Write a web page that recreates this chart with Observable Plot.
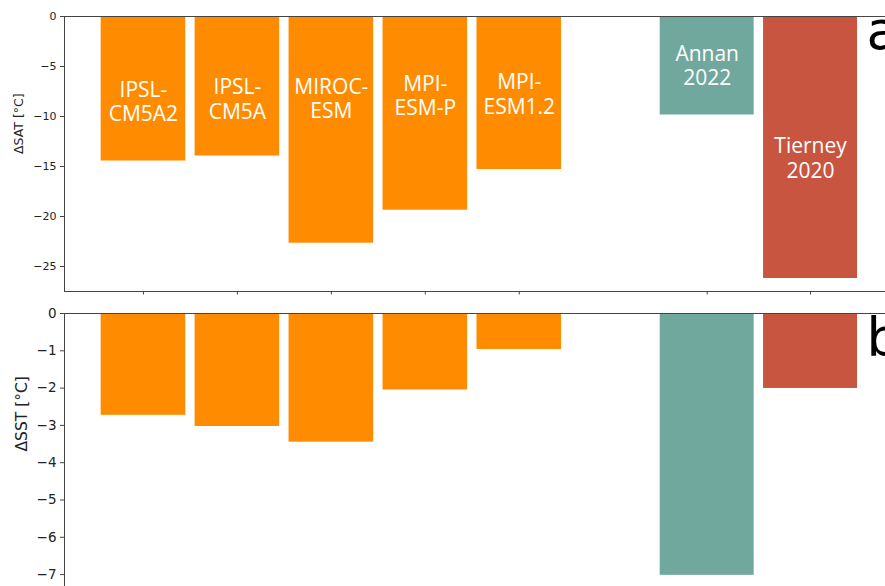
<!DOCTYPE html>
<html><head><meta charset="utf-8">
<script src="https://cdn.jsdelivr.net/npm/d3@7"></script>
<script src="https://cdn.jsdelivr.net/npm/@observablehq/plot@0.6"></script>
<style>
html,body{margin:0;padding:0;background:#fff;overflow:hidden;}
#wrap{width:885px;height:586px;overflow:hidden;position:relative;}
#wrap svg{display:block;max-width:none !important;width:920px;height:300px;}
</style></head><body><div id="wrap"></div>
<script>
const names = ["IPSL-\nCM5A2","IPSL-\nCM5A","MIROC-\nESM","MPI-\nESM-P","MPI-\nESM1.2","Annan\n2022","Tierney\n2020"];
const groups = ["model","model","model","model","model","Annan","Tierney"];
const satValues = [-14.45,-13.95,-22.67,-19.37,-15.3,-9.85,-26.2];
const sstValues = [-2.73,-3.03,-3.45,-2.05,-0.965,-7.02,-2.01];
const labelY = [-8.45,-8.2,-8.15,-7.85,-7.7,-4.85,-14.1];
const satTicks = [0,-5,-10,-15,-20,-25];
const sstTicks = [0,-1,-2,-3,-4,-5,-6,-7];
const colors = {model:"#ff8c00", Annan:"#70a89e", Tierney:"#c85540"};

const pos = groups.map((g,i)=> g==="model" ? i : (g==="Annan" ? 6 : 7.1));
const wid = groups.map(g => g==="model" ? 0.9 : 1.0);
const rows = names.map((n,i)=>({name:n, x:pos[i], x1:pos[i]-wid[i]/2, x2:pos[i]+wid[i]/2,
  sat:satValues[i], sst:sstValues[i], ly:labelY[i], color:colors[groups[i]]}));
const fmt = d => d===0 ? "0" : "\u2212"+Math.abs(d);

const panelA = Plot.plot({
  width:920, height:300, marginLeft:64, marginRight:16, marginTop:16, marginBottom:9,
  x:{type:"linear", domain:[-0.84, 8.1]}, y:{domain:[-27.5,0]}, color:{type:"identity"},
  style:{fontFamily:"DejaVu Sans", background:"white", color:"#222"},
  marks:[
    Plot.rectY(rows, {x1:"x1", x2:"x2", y1:0, y2:"sat", fill:"color"}),
    Plot.text(rows, {x:"x", y:"ly", text:"name", fill:"white", fontSize:21, fontFamily:"Open Sans", lineHeight:1.17}),
    Plot.frame({stroke:"#444"}),
    Plot.axisY({ticks:satTicks, tickFormat:fmt, tickSize:4, tickPadding:4, fontSize:11, label:null, stroke:"#444"}),
    Plot.axisX({ticks:pos, tickFormat:()=>"", tickSize:3.5, label:null, stroke:"#444"}),
    Plot.text(["ΔSAT [°C]"], {frameAnchor:"left", rotate:-90, dx:-46, fontSize:12.5}),
    Plot.text(["a"], {frameAnchor:"top-left", dx:802, dy:-5, lineAnchor:"top", textAnchor:"start", fontSize:53, fill:"black"})
  ]
});

const panelB = Plot.plot({
  width:920, height:300, marginLeft:64, marginRight:16, marginTop:13, marginBottom:11,
  x:{type:"linear", domain:[-0.84, 8.1], axis:null}, y:{domain:[-7.4,0]}, color:{type:"identity"},
  style:{fontFamily:"DejaVu Sans", background:"white", color:"#222"},
  marks:[
    Plot.rectY(rows, {x1:"x1", x2:"x2", y1:0, y2:"sst", fill:"color"}),
    Plot.frame({stroke:"#444"}),
    Plot.axisY({ticks:sstTicks, tickFormat:fmt, tickSize:4, tickPadding:4, fontSize:13.5, label:null, stroke:"#444"}),
    Plot.text(["ΔSST [°C]"], {frameAnchor:"left", rotate:-90, dx:-42, fontSize:15.5}),
    Plot.text(["b"], {frameAnchor:"top-left", dx:802, dy:5, lineAnchor:"top", textAnchor:"start", fontSize:53, fill:"black"})
  ]
});

const wrap = document.getElementById("wrap");
wrap.appendChild(panelA);
wrap.appendChild(panelB);
</script></body></html>
